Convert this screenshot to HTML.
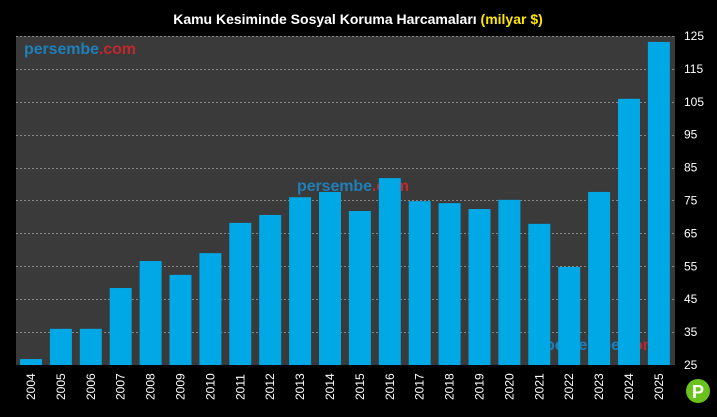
<!DOCTYPE html>
<html><head><meta charset="utf-8"><style>
body{margin:0;background:#000;width:717px;height:412px;overflow:hidden;font-family:"Liberation Sans",sans-serif}
</style></head><body>
<svg width="717" height="412" xmlns="http://www.w3.org/2000/svg" font-family="Liberation Sans, sans-serif">
<rect width="717" height="412" fill="#000"/>
<text x="358" y="24" text-anchor="middle" fill="#fff" font-weight="bold" font-size="14">Kamu Kesiminde Sosyal Koruma Harcamaları <tspan fill="#ffe600">(milyar $)</tspan></text>
<rect x="16" y="36" width="659" height="329" fill="#3a3a3a"/>
<g stroke="#888" stroke-dasharray="2,2" stroke-width="1">
<line x1="16" x2="675" y1="36.5" y2="36.5"/><line x1="16" x2="675" y1="69.5" y2="69.5"/><line x1="16" x2="675" y1="102.5" y2="102.5"/><line x1="16" x2="675" y1="135.5" y2="135.5"/><line x1="16" x2="675" y1="168.5" y2="168.5"/><line x1="16" x2="675" y1="200.5" y2="200.5"/><line x1="16" x2="675" y1="233.5" y2="233.5"/><line x1="16" x2="675" y1="266.5" y2="266.5"/><line x1="16" x2="675" y1="299.5" y2="299.5"/><line x1="16" x2="675" y1="332.5" y2="332.5"/>
</g>
<text x="24" y="54" font-size="16" font-weight="bold" fill="#1f7fb8" textLength="112">persembe<tspan fill="#c0282d">.com</tspan></text>
<text x="297" y="191" font-size="16" font-weight="bold" fill="#1f7fb8" textLength="112">persembe<tspan fill="#c0282d">.com</tspan></text>
<text x="545" y="350" font-size="16" font-weight="bold" fill="#1f7fb8" textLength="112">persembe<tspan fill="#c0282d">.com</tspan></text>
<g fill="#00a8e6" id="bars"></g>
<g fill="#fff" font-size="12" id="yl"></g>
<g fill="#fff" font-size="12" id="xl"></g>
<circle cx="698" cy="391" r="12" fill="#6cc21c"/>
<text x="698" y="398" text-anchor="middle" font-size="18" font-weight="bold" fill="#fff">P</text>
<script>
var v=[26.8,36,36,48.4,56.6,52.4,59,68.2,70.6,76,77.6,71.8,81.8,74.8,74.2,72.4,75.2,67.9,54.8,77.6,105.9,123.2];
var ns="http://www.w3.org/2000/svg",b=document.getElementById('bars'),xl=document.getElementById('xl'),yl=document.getElementById('yl');
v.forEach(function(d,i){var c=31+i*29.9,t=365-(d-25)*3.29;
var r=document.createElementNS(ns,'rect');r.setAttribute('x',c-11);r.setAttribute('y',t);r.setAttribute('width',22);r.setAttribute('height',365-t);b.appendChild(r);
var s=document.createElementNS(ns,'text');s.setAttribute('transform','translate('+(c+4)+',400) rotate(-90)');s.textContent=2004+i;xl.appendChild(s);});
for(var k=25;k<=125;k+=10){var s=document.createElementNS(ns,'text');s.setAttribute('x',684);s.setAttribute('y',369-(k-25)*3.29);s.textContent=k;yl.appendChild(s);}
</script>
</svg>
</body></html>
